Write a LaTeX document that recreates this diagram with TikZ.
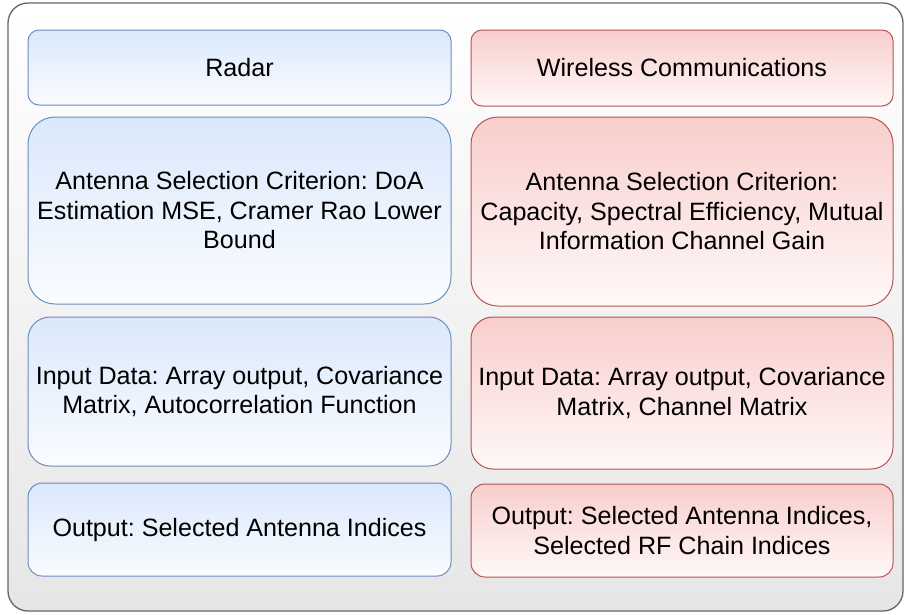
\documentclass[tikz,border=0pt]{standalone}
\usepackage{fontspec}
\setmainfont{Liberation Sans}
\frenchspacing
\definecolor{blueTop}{HTML}{DAE8FC}
\definecolor{blueBottom}{HTML}{FAFCFF}
\definecolor{blueEdge}{HTML}{6C8EBF}
\definecolor{redTop}{HTML}{F8CECC}
\definecolor{redBottom}{HTML}{FFF8F8}
\definecolor{redEdge}{HTML}{B85450}
\definecolor{frameEdge}{HTML}{666666}
\definecolor{frameBottom}{HTML}{E6E6E6}
\tikzset{
  cell/.style={rectangle, inner sep=0pt, align=center, line width=1pt,
    font=\fontsize{25.1}{29.5}\selectfont, text=black},
  bluecell/.style={cell, draw=blueEdge, top color=blueTop, bottom color=blueBottom},
  redcell/.style={cell, draw=redEdge, top color=redTop, bottom color=redBottom},
  frame/.style={rectangle, inner sep=0pt, draw=frameEdge, line width=1.3pt,
    top color=white, bottom color=frameBottom, rounded corners=20pt},
}
\begin{document}
\begin{tikzpicture}[x=1pt,y=-1pt]
\useasboundingbox (0,0) rectangle (904,614);
% outer container
\node[frame, minimum width=895pt, minimum height=608pt] (panel) at (455.5,307) {};
% radar column
\node[bluecell, minimum width=423pt, minimum height=75pt, rounded corners=11pt]
  (radar) at (239.5,67.5) {Radar};
\node[bluecell, minimum width=423pt, minimum height=187pt, rounded corners=27pt]
  (rcrit) at (239.5,210.5) {Antenna Selection Criterion: DoA\\Estimation MSE, Cramer Rao Lower\\Bound};
\node[bluecell, minimum width=423pt, minimum height=149pt, rounded corners=22pt]
  (rin) at (239.5,391.5) {Input Data: Array output, Covariance\\Matrix, Autocorrelation Function};
\node[bluecell, minimum width=423pt, minimum height=93pt, rounded corners=14pt]
  (rout) at (239.5,529.5) {Output: Selected Antenna Indices};
% wireless communications column
\node[redcell, minimum width=422pt, minimum height=76pt, rounded corners=11pt]
  (comm) at (682,68) {Wireless Communications};
\node[redcell, minimum width=422pt, minimum height=189pt, rounded corners=27pt]
  (ccrit) at (682,211.5) {Antenna Selection Criterion:\\Capacity, Spectral Efficiency, Mutual\\Information Channel Gain};
\node[redcell, minimum width=422pt, minimum height=152pt, rounded corners=22pt]
  (cin) at (682,393) {Input Data: Array output, Covariance\\Matrix, Channel Matrix};
\node[redcell, minimum width=422pt, minimum height=93pt, rounded corners=14pt]
  (cout) at (682,530.5) {Output: Selected Antenna Indices,\\Selected RF Chain Indices};
\end{tikzpicture}
\end{document}
